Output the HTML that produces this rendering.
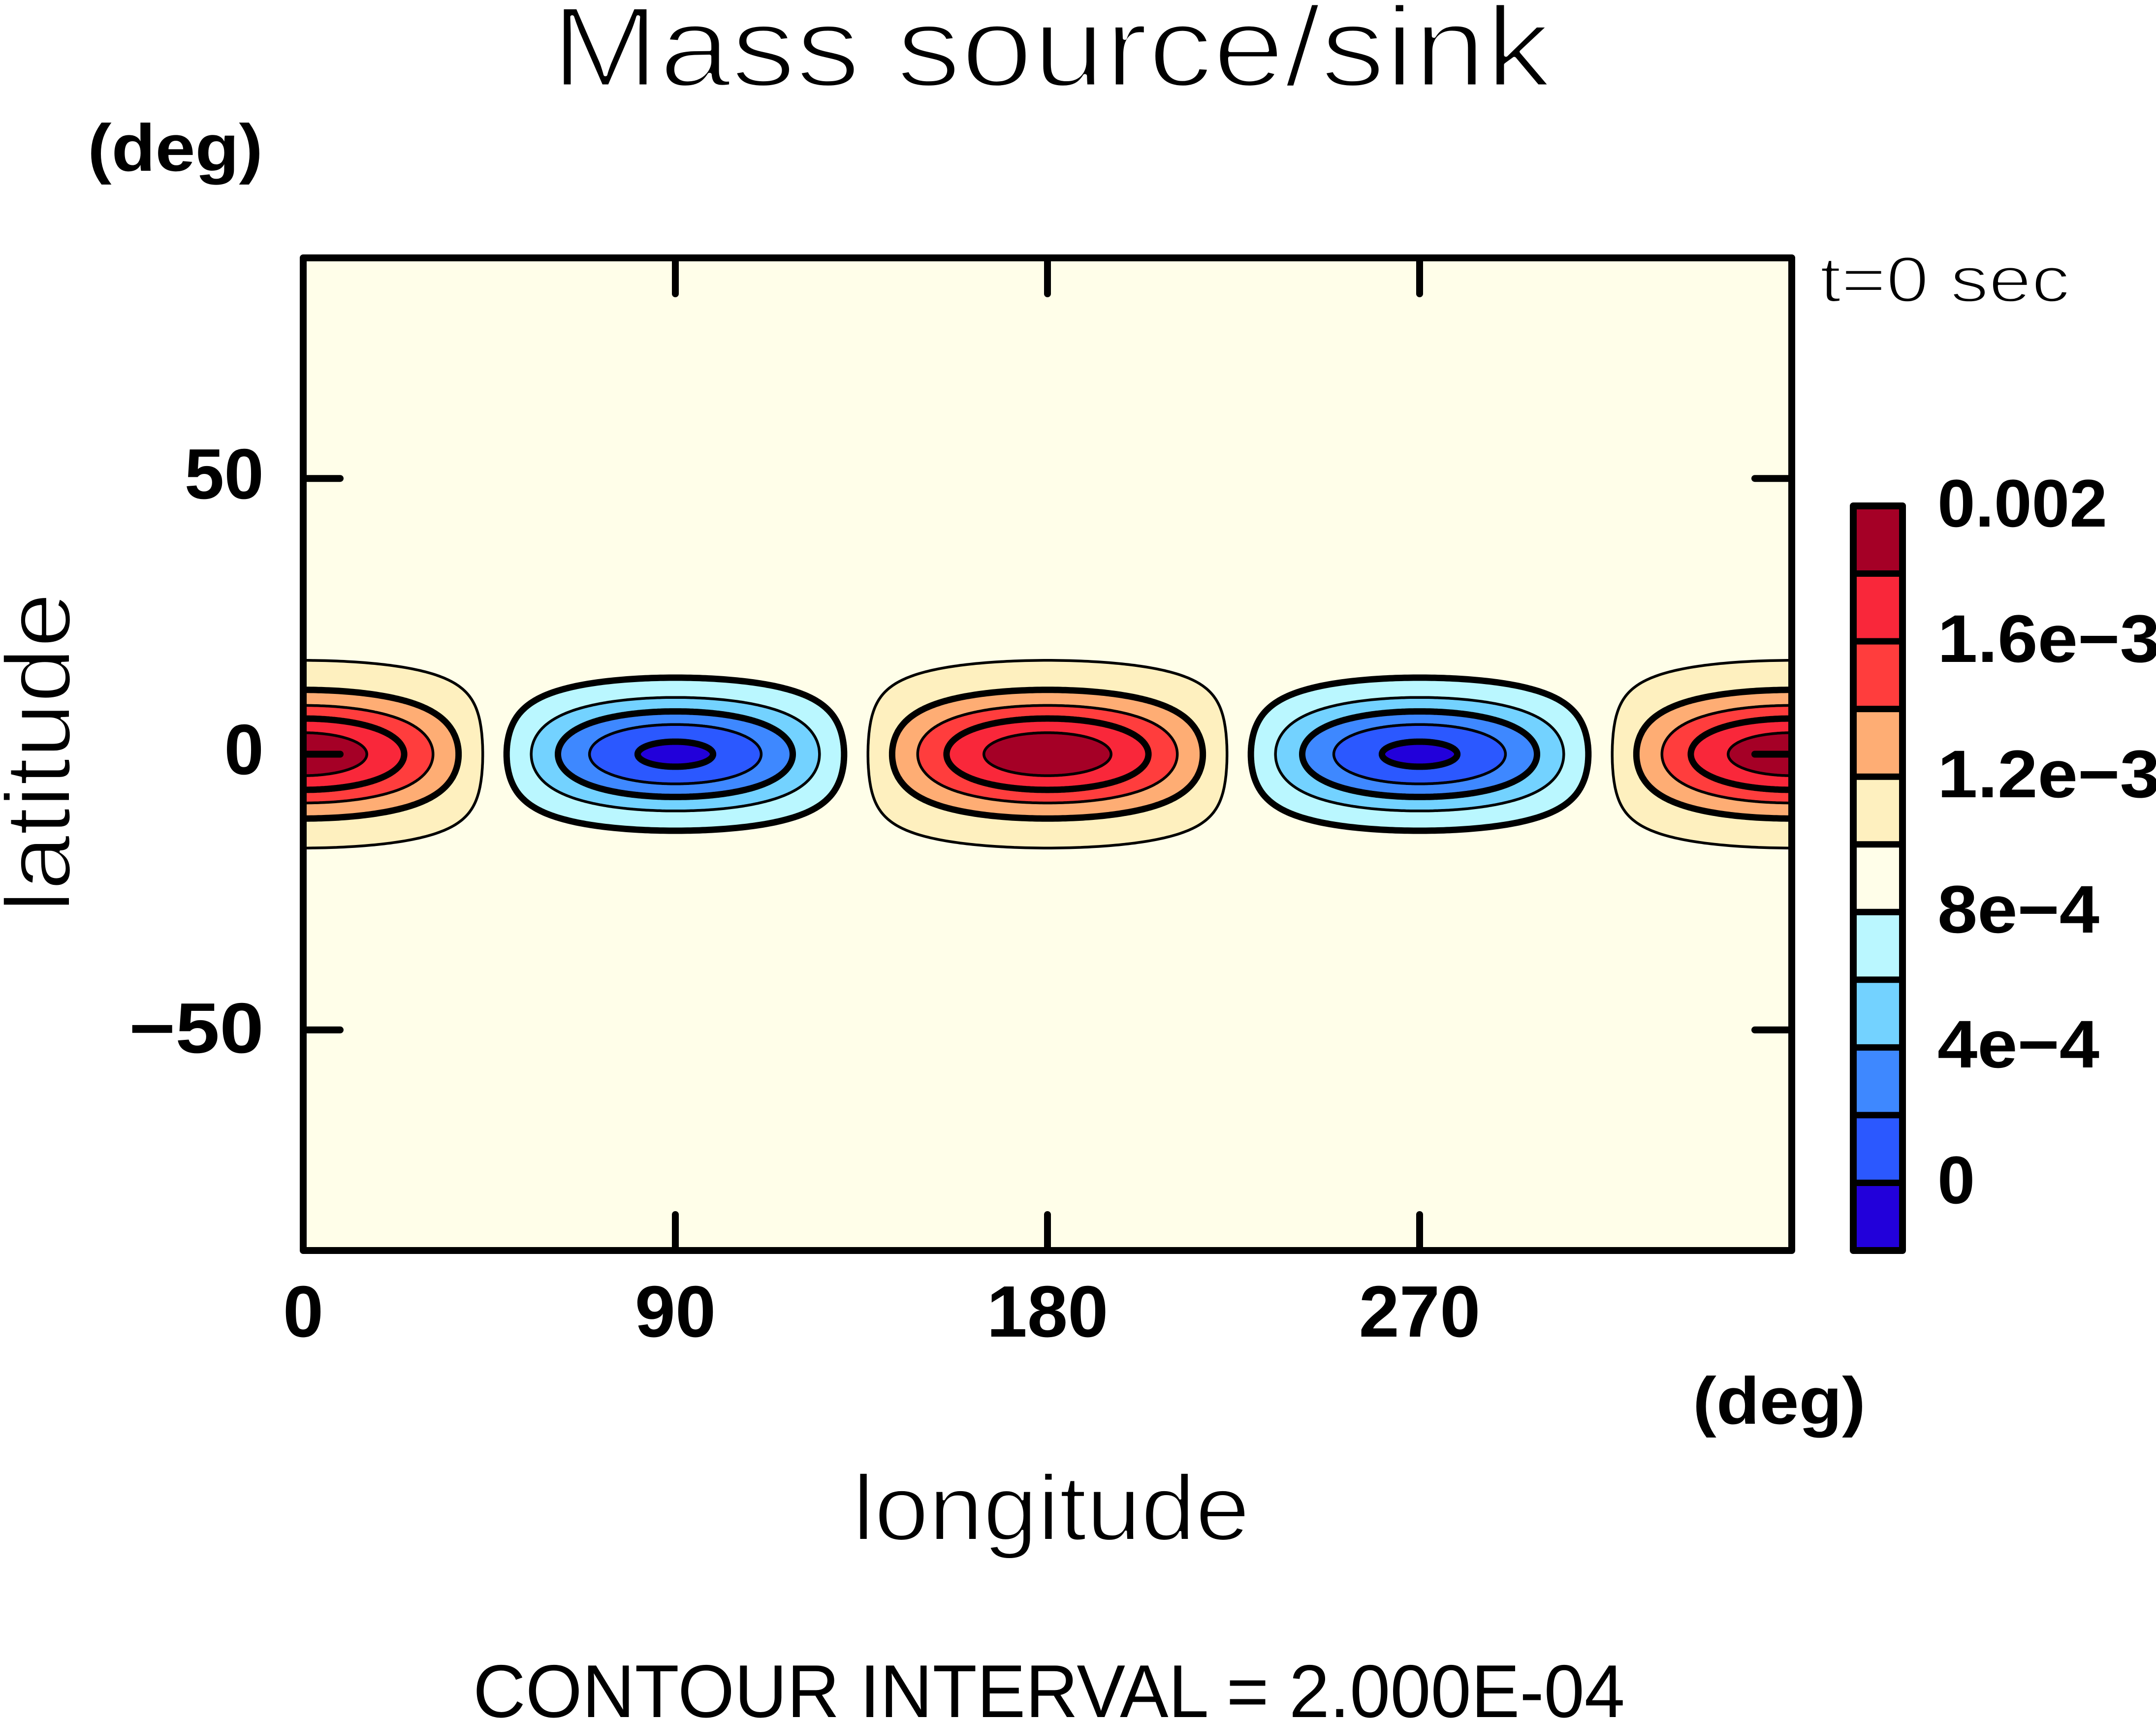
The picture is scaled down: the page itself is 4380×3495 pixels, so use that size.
<!DOCTYPE html>
<html>
<head>
<meta charset="utf-8">
<style>
  html,body{margin:0;padding:0;background:#fff;}
  svg{display:block;}
  text{font-family:"Liberation Sans", sans-serif; fill:#000;}
  .b{font-weight:bold;}
  .thin{stroke:#ffffff;stroke-linejoin:round;}
</style>
</head>
<body>
<svg id="chart" xmlns="http://www.w3.org/2000/svg" width="4380" height="3495" viewBox="0 0 4380 3495">
  <defs>
    <clipPath id="plotclip">
      <rect x="616" y="524" width="3024" height="2017"/>
    </clipPath>
  </defs>
  <rect x="0" y="0" width="4380" height="3495" fill="#ffffff"/>
  <!-- plot background -->
  <rect x="616" y="524" width="3024" height="2017" fill="#FFFEE9"/>
  <g id="contours" clip-path="url(#plotclip)"></g>

  <!-- ticks -->
  <g stroke="#000" stroke-width="14" stroke-linecap="round" fill="none">
    <line x1="1372" y1="524" x2="1372" y2="597"/>
    <line x1="2128" y1="524" x2="2128" y2="597"/>
    <line x1="2884" y1="524" x2="2884" y2="597"/>
    <line x1="1372" y1="2541" x2="1372" y2="2468"/>
    <line x1="2128" y1="2541" x2="2128" y2="2468"/>
    <line x1="2884" y1="2541" x2="2884" y2="2468"/>
    <line x1="616" y1="972.2" x2="691" y2="972.2"/>
    <line x1="616" y1="1532.5" x2="691" y2="1532.5"/>
    <line x1="616" y1="2092.8" x2="691" y2="2092.8"/>
    <line x1="3640" y1="972.2" x2="3565" y2="972.2"/>
    <line x1="3640" y1="1532.5" x2="3565" y2="1532.5"/>
    <line x1="3640" y1="2092.8" x2="3565" y2="2092.8"/>
  </g>
  <!-- frame -->
  <rect x="616" y="524" width="3024" height="2017" fill="none" stroke="#000" stroke-width="14" stroke-linejoin="round"/>

  <!-- colorbar -->
  <g>
    <rect x="3765" y="1028.0" width="100" height="137.6" fill="#A50026"/>
    <rect x="3765" y="1165.5" width="100" height="137.6" fill="#F9273A"/>
    <rect x="3765" y="1303.1" width="100" height="137.6" fill="#FF3D3D"/>
    <rect x="3765" y="1440.6" width="100" height="137.6" fill="#FEAD74"/>
    <rect x="3765" y="1578.2" width="100" height="137.6" fill="#FEF0BF"/>
    <rect x="3765" y="1715.7" width="100" height="137.6" fill="#FFFEE9"/>
    <rect x="3765" y="1853.3" width="100" height="137.6" fill="#BAF7FF"/>
    <rect x="3765" y="1990.8" width="100" height="137.6" fill="#73D2FF"/>
    <rect x="3765" y="2128.4" width="100" height="137.6" fill="#3E88FF"/>
    <rect x="3765" y="2265.9" width="100" height="137.6" fill="#2B58FF"/>
    <rect x="3765" y="2403.5" width="100" height="137.5" fill="#2200DA"/>
    <g stroke="#000" stroke-width="13">
      <line x1="3765" y1="1165.5" x2="3865" y2="1165.5"/>
      <line x1="3765" y1="1303.1" x2="3865" y2="1303.1"/>
      <line x1="3765" y1="1440.6" x2="3865" y2="1440.6"/>
      <line x1="3765" y1="1578.2" x2="3865" y2="1578.2"/>
      <line x1="3765" y1="1715.7" x2="3865" y2="1715.7"/>
      <line x1="3765" y1="1853.3" x2="3865" y2="1853.3"/>
      <line x1="3765" y1="1990.8" x2="3865" y2="1990.8"/>
      <line x1="3765" y1="2128.4" x2="3865" y2="2128.4"/>
      <line x1="3765" y1="2265.9" x2="3865" y2="2265.9"/>
      <line x1="3765" y1="2403.5" x2="3865" y2="2403.5"/>
    </g>
    <rect x="3765" y="1028" width="100" height="1513" fill="none" stroke="#000" stroke-width="14" stroke-linejoin="round"/>
  </g>

  <!-- colorbar labels -->
  <text class="b" x="3936" y="1070" font-size="137" textLength="345" lengthAdjust="spacingAndGlyphs">0.002</text>
  <text class="b" x="3936" y="1345" font-size="137" textLength="452" lengthAdjust="spacingAndGlyphs">1.6e−3</text>
  <text class="b" x="3936" y="1620" font-size="137" textLength="452" lengthAdjust="spacingAndGlyphs">1.2e−3</text>
  <text class="b" x="3936" y="1895" font-size="137" textLength="329" lengthAdjust="spacingAndGlyphs">8e−4</text>
  <text class="b" x="3936" y="2169" font-size="137" textLength="329" lengthAdjust="spacingAndGlyphs">4e−4</text>
  <text class="b" x="3936" y="2445" font-size="137">0</text>

  <!-- title -->
  <text class="thin" stroke-width="7" x="1120" y="175" font-size="232" textLength="2030" lengthAdjust="spacingAndGlyphs">Mass source/sink</text>

  <!-- t=0 sec -->
  <text class="thin" stroke-width="4" x="3697" y="613" font-size="131" textLength="508" lengthAdjust="spacingAndGlyphs">t=0 sec</text>

  <!-- y axis unit -->
  <text class="b" x="178" y="347" font-size="135" textLength="356" lengthAdjust="spacingAndGlyphs">(deg)</text>

  <!-- y tick labels -->
  <text class="b" x="536" y="1013" font-size="145" text-anchor="end">50</text>
  <text class="b" x="536" y="1573" font-size="145" text-anchor="end">0</text>
  <text class="b" x="536" y="2139" font-size="145" text-anchor="end" textLength="274" lengthAdjust="spacingAndGlyphs">−50</text>

  <!-- y axis label -->
  <text class="thin" stroke-width="4" transform="translate(142,1529) rotate(-90)" x="0" y="0" font-size="188" text-anchor="middle" textLength="650" lengthAdjust="spacingAndGlyphs">latitude</text>

  <!-- x tick labels -->
  <text class="b" x="616" y="2716" font-size="148" text-anchor="middle">0</text>
  <text class="b" x="1372" y="2716" font-size="148" text-anchor="middle">90</text>
  <text class="b" x="2128" y="2716" font-size="148" text-anchor="middle">180</text>
  <text class="b" x="2884" y="2716" font-size="148" text-anchor="middle">270</text>

  <!-- x unit -->
  <text class="b" x="3439" y="2893" font-size="135" textLength="351" lengthAdjust="spacingAndGlyphs">(deg)</text>

  <!-- x axis label -->
  <text class="thin" stroke-width="4" x="1732" y="3129" font-size="188" textLength="807" lengthAdjust="spacingAndGlyphs">longitude</text>

  <!-- contour interval -->
  <text x="961" y="3489" font-size="152" textLength="2340" lengthAdjust="spacingAndGlyphs">CONTOUR INTERVAL = 2.000E-04</text>
</svg>
<script>
(function(){
  var NS='http://www.w3.org/2000/svg';
  var X0=616, X1=3640, Y0=524, Y1=2541;
  var sx=(X1-X0)/360, sy=(Y1-Y0)/180, yc=(Y0+Y1)/2;
  var c=9.45e-4, a=0.995e-3, sig=10;
  var g=document.getElementById('contours');
  function path(lc,k){
    var pm=sig*Math.sqrt(Math.log(1/k));
    var N=240, pts=[], i, s, p, v, dl;
    for(i=0;i<=N;i++){
      s=-Math.PI/2+Math.PI*i/N; p=pm*Math.sin(s);
      v=k*Math.exp((p/sig)*(p/sig)); if(v>1)v=1;
      dl=0.5*Math.acos(v)*180/Math.PI;
      pts.push([lc+dl,p]);
    }
    for(i=N;i>=0;i--){
      s=-Math.PI/2+Math.PI*i/N; p=pm*Math.sin(s);
      v=k*Math.exp((p/sig)*(p/sig)); if(v>1)v=1;
      dl=0.5*Math.acos(v)*180/Math.PI;
      pts.push([lc-dl,p]);
    }
    var d='M';
    for(i=0;i<pts.length;i++){
      d+=(i?'L':'')+(X0+pts[i][0]*sx).toFixed(1)+','+(yc-pts[i][1]*sy).toFixed(1);
    }
    return d+'Z';
  }
  var THIN=5.5, BOLD=13;
  var red={levels:[1.0e-3,1.2e-3,1.4e-3,1.6e-3,1.8e-3],
           fills:['#FEF0BF','#FEAD74','#FF3D3D','#F9273A','#A50026'],
           widths:[THIN,BOLD,THIN,BOLD,THIN], sign:1, centers:[0,180,360]};
  var blue={levels:[8e-4,6e-4,4e-4,2e-4,0],
           fills:['#BAF7FF','#73D2FF','#3E88FF','#2B58FF','#2200DA'],
           widths:[BOLD,THIN,BOLD,THIN,BOLD], sign:-1, centers:[90,270]};
  function mk(attrs){
    var e=document.createElementNS(NS,'path');
    for(var k in attrs) e.setAttribute(k,attrs[k]);
    g.appendChild(e);
  }
  [red,blue].forEach(function(S){
    S.centers.forEach(function(lc){
      var ds=[];
      for(var j=0;j<S.levels.length;j++){
        var k=S.sign*(S.levels[j]-c)/a;
        if(k<=0||k>=1){ds.push(null);continue;}
        var d=path(lc,k); ds.push(d);
        mk({d:d,fill:S.fills[j],stroke:'none'});
      }
      for(var j2=0;j2<ds.length;j2++){
        if(!ds[j2])continue;
        mk({d:ds[j2],fill:'none',stroke:'#000','stroke-width':S.widths[j2],'stroke-linejoin':'round'});
      }
    });
  });
})();
</script>
</body>
</html>
